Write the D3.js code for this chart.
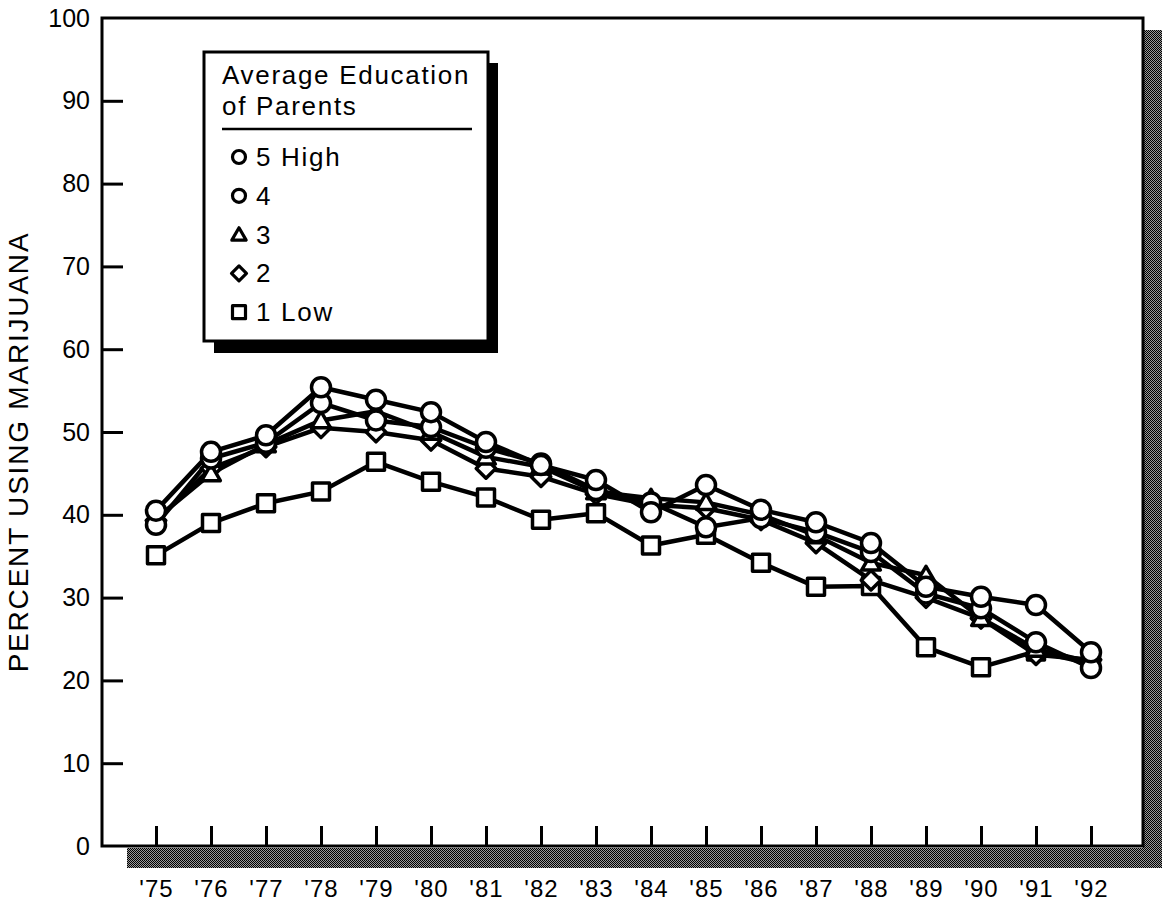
<!DOCTYPE html>
<html><head><meta charset="utf-8">
<script src="https://cdn.jsdelivr.net/npm/d3@7"></script>
<style>
html,body{margin:0;padding:0;background:#fff;}
svg{display:block;font-family:"Liberation Sans",Arial,Helvetica,sans-serif;}
</style></head>
<body>
<svg id="chart" width="1164" height="902"></svg>
<script>
const years = [1975,1976,1977,1978,1979,1980,1981,1982,1983,1984,1985,1986,1987,1988,1989,1990,1991,1992];
const yearLabels = ["'75","'76","'77","'78","'79","'80","'81","'82","'83","'84","'85","'86","'87","'88","'89","'90","'91","'92"];
const yTicks = [0,10,20,30,40,50,60,70,80,90,100];
const seriesNames = ["5 High","4","3","2","1 Low"];
const seriesShapes = ["circle","circle","triangle","diamond","square"];
const high5 = [40.5,47.6,49.6,55.4,53.9,52.4,48.8,46.0,44.2,40.3,43.6,40.6,39.1,36.6,31.3,30.1,29.1,23.4];
const level4 = [38.8,46.8,48.7,53.5,51.4,50.6,48.1,46.2,43.0,41.5,38.5,39.6,37.9,35.5,30.5,28.7,24.6,21.5];
const level3 = [39.5,45.0,48.5,51.4,52.5,50.0,47.0,45.8,42.8,42.0,41.5,40.0,37.5,34.2,32.7,27.5,23.8,22.2];
const level2 = [39.3,45.6,48.2,50.5,50.0,49.0,45.6,44.6,42.5,41.2,40.8,39.4,36.6,32.1,30.0,27.5,23.1,22.5];
const low1 = [35.1,39.0,41.4,42.8,46.4,44.0,42.1,39.4,40.2,36.3,37.6,34.2,31.3,31.4,24.0,21.6,23.5,22.0];
const seriesValues = [high5, level4, level3, level2, low1];

const svg = d3.select("#chart");
const L = 102, T = 18, R = 1143, B = 846;
const x = d3.scaleLinear().domain([1975,1992]).range([156,1091]);
const y = d3.scaleLinear().domain([0,100]).range([B,T]);

// dithered shadow pattern
const defs = svg.append("defs");
const pat = defs.append("pattern").attr("id","dith").attr("width",2).attr("height",2).attr("patternUnits","userSpaceOnUse");
pat.append("rect").attr("width",2).attr("height",2).attr("fill","#9a9a9a");
pat.append("rect").attr("x",0).attr("y",0).attr("width",1).attr("height",1).attr("fill","#000");
pat.append("rect").attr("x",1).attr("y",1).attr("width",1).attr("height",1).attr("fill","#000");

svg.append("rect").attr("x",R).attr("y",30).attr("width",19).attr("height",B+22-30).attr("fill","url(#dith)");
svg.append("rect").attr("x",127).attr("y",B+2).attr("width",R+19-127).attr("height",20).attr("fill","url(#dith)");

// frame
svg.append("rect").attr("x",L).attr("y",T).attr("width",R-L).attr("height",B-T)
  .attr("fill","#fff").attr("stroke","#000").attr("stroke-width",3);

// y axis ticks & labels
const yAxis = d3.axisLeft(y).tickValues(yTicks).tickSize(-21).tickPadding(12).tickFormat(d3.format("d"));
const gy = svg.append("g").attr("transform",`translate(${L},0)`).call(yAxis);
gy.select(".domain").remove();
gy.selectAll(".tick line").attr("stroke","#000").attr("stroke-width",3);
gy.selectAll(".tick text").attr("font-size",25).attr("fill","#000").attr("font-family","Liberation Sans, Arial, sans-serif");
gy.selectAll(".tick").filter(d=>d===0||d===100).select("line").remove();

// x axis
const xAxis = d3.axisBottom(x).tickValues(years).tickSize(-20).tickPadding(34).tickFormat((d,i)=>yearLabels[i]);
const gx = svg.append("g").attr("transform",`translate(0,${B})`).call(xAxis);
gx.select(".domain").remove();
gx.selectAll(".tick line").attr("stroke","#000").attr("stroke-width",3);
gx.selectAll(".tick text").attr("font-size",24).attr("fill","#000").attr("letter-spacing","1px")
  .attr("font-family","Liberation Sans, Arial, sans-serif");

// y title
svg.append("text").attr("transform","translate(28,452) rotate(-90)").attr("text-anchor","middle")
  .attr("font-size",28).attr("letter-spacing","1.8px").text("PERCENT USING MARIJUANA");

// symbols
function shapePath(shape, s){
  const h = s/2;
  if(shape==="triangle"){ return `M0,${-h*1.05}L${h*1.1},${h*0.85}L${-h*1.1},${h*0.85}Z`; }
  if(shape==="diamond"){ return `M0,${-h*1.15}L${h*1.15},0L0,${h*1.15}L${-h*1.15},0Z`; }
  if(shape==="square"){ return `M${-h},${-h}L${h},${-h}L${h},${h}L${-h},${h}Z`; }
  return null;
}
function drawMarker(g, shape, cx, cy, s, sw){
  if(shape==="circle"){
    g.append("circle").attr("cx",cx).attr("cy",cy).attr("r",s/2).attr("fill","#fff").attr("stroke","#000").attr("stroke-width",sw);
  } else {
    g.append("path").attr("d",shapePath(shape,s)).attr("transform",`translate(${cx},${cy})`)
      .attr("fill","#fff").attr("stroke","#000").attr("stroke-width",sw).attr("stroke-linejoin","round");
  }
}

const line = d3.line().x((d,i)=>x(years[i])).y(d=>y(d));
const order = [4,3,2,1,0];
const gl = svg.append("g");
order.forEach(k=>{
  gl.append("path").datum(seriesValues[k]).attr("d",line).attr("fill","none")
    .attr("stroke","#000").attr("stroke-width",4.5).attr("stroke-linejoin","round");
});
const gm = svg.append("g");
order.forEach(k=>{
  const shp = seriesShapes[k];
  const sz = shp==="circle"?19:17;
  seriesValues[k].forEach((v,i)=>drawMarker(gm, shp, x(years[i]), y(v), sz, 3.5));
});

// legend
const lg = svg.append("g");
lg.append("rect").attr("x",214).attr("y",63).attr("width",284).attr("height",290).attr("fill","#000");
lg.append("rect").attr("x",204).attr("y",52).attr("width",284).attr("height",289).attr("fill","#fff").attr("stroke","#000").attr("stroke-width",3);
lg.append("text").attr("x",222).attr("y",84).attr("font-size",26).attr("letter-spacing","1.7px").text("Average Education");
lg.append("text").attr("x",222).attr("y",115).attr("font-size",26).attr("letter-spacing","1.7px").text("of Parents");
lg.append("line").attr("x1",222).attr("x2",472).attr("y1",129).attr("y2",129).attr("stroke","#000").attr("stroke-width",2.5);
seriesNames.forEach((n,i)=>{
  const by = 166 + i*38.8;
  drawMarker(lg, seriesShapes[i], 239, by-9, 13, 3.2);
  lg.append("text").attr("x",256).attr("y",by).attr("font-size",26).attr("letter-spacing","1.7px").text(n);
});
</script>
</body></html>
